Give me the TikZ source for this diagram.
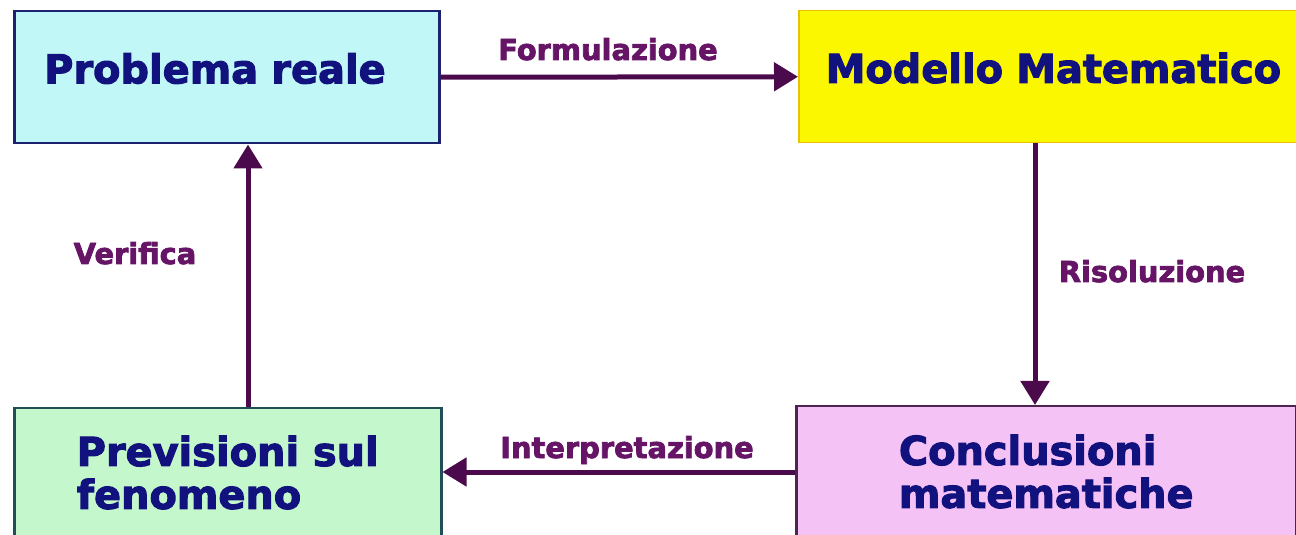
\documentclass[tikz,border=0pt]{standalone}
\usepackage{fontspec}
\setmainfont{DejaVu Sans}
\newfontfamily\heavyfont[FakeBold=2.6]{DejaVu Sans Bold}
\usetikzlibrary{arrows.meta}

\definecolor{realfill}{HTML}{C2F7F7}
\definecolor{realdraw}{HTML}{1C2270}
\definecolor{modfill}{HTML}{FBF700}
\definecolor{moddraw}{HTML}{E5C300}
\definecolor{conclfill}{HTML}{F5C2F5}
\definecolor{concldraw}{HTML}{4E2450}
\definecolor{prevfill}{HTML}{C4F8CC}
\definecolor{prevdraw}{HTML}{1F4F55}
\definecolor{boxtext}{HTML}{12127E}
\definecolor{lblcol}{HTML}{661466}
\definecolor{arrowcol}{HTML}{4B0A4B}

\tikzset{
  box/.style={draw, line width=2.5bp, anchor=north west, inner sep=0pt,
    align=left, text=boxtext, font=\heavyfont\fontsize{40}{43}\selectfont},
  flow/.style={draw=arrowcol, line width=5bp, -{Triangle[length=24bp,width=28bp]}},
  lbl/.style={anchor=base, text=lblcol, font=\heavyfont\fontsize{29}{32}\selectfont}
}

\begin{document}
\begin{tikzpicture}[x=1bp,y=-1bp]
  \useasboundingbox (0,0) rectangle (1296,535);
  \clip (0,0) rectangle (1296,535);

  % boxes
  \node[box, fill=realfill, draw=realdraw, inner xsep=30bp, text width=365bp,
    minimum height=132bp, text depth=18bp] (reale) at (13,10) {Problema reale};
  \node[box, fill=modfill, draw=moddraw, line width=1.5bp, inner xsep=27bp,
    text width=464bp, minimum height=132bp, text depth=18bp] (modello) at (798,10)
    {Modello Matematico};
  \node[box, fill=conclfill, draw=concldraw, minimum width=500bp, minimum height=142bp,
    text depth=12bp] (concl) at (795,405) {Conclusioni\\matematiche};
  \node[box, fill=prevfill, draw=prevdraw, minimum width=427bp, minimum height=140bp,
    text depth=12bp] (prev) at (13,407) {Previsioni sul\\fenomeno};

  % arrows
  \coordinate (risx) at (1035,0);
  \coordinate (intery) at (0,472);
  \coordinate (verx) at (248,0);
  \draw[flow] (reale.east) -- (modello.west);
  \draw[flow] (modello.south -| risx) -- (concl.north -| risx);
  \draw[flow] (concl.west |- intery) -- (prev.east |- intery);
  \draw[flow] (prev.north -| verx) -- (reale.south -| verx);

  % labels
  \node[lbl] (formul) at (608,60) {Formulazione};
  \node[lbl] (risol) at (1152,282) {Risoluzione};
  \node[lbl] (interp) at (627,458) {Interpretazione};
  \node[lbl] (verif) at (135,264) {Verifica};
\end{tikzpicture}
\end{document}
